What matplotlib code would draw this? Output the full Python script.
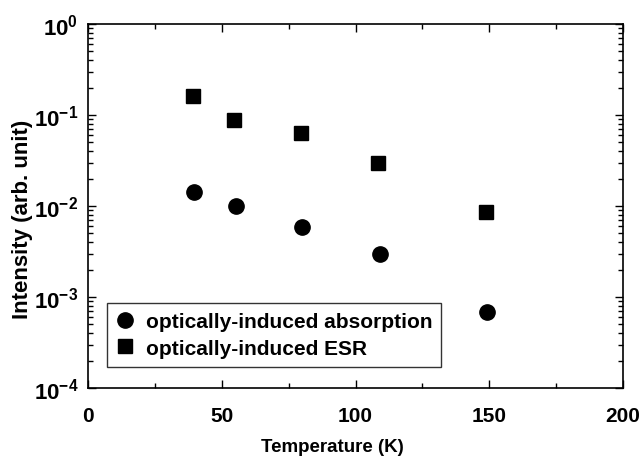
import math
import matplotlib
matplotlib.use("Agg")
import matplotlib.pyplot as plt
from matplotlib.ticker import FixedLocator, LogLocator, FuncFormatter, NullFormatter

plt.rcParams['font.family'] = ['Liberation Sans', 'DejaVu Sans']
plt.rcParams['font.weight'] = 'bold'
plt.rcParams['mathtext.fontset'] = 'custom'
plt.rcParams['mathtext.rm'] = 'Liberation Sans:bold'
plt.rcParams['mathtext.bf'] = 'Liberation Sans:bold'
plt.rcParams['mathtext.default'] = 'bf'

# data
abs_T = [39.7, 55.2, 80.0, 109.2, 149.2]
abs_I = [0.0142, 0.0100, 0.0059, 0.0030, 0.00069]
esr_T = [39.3, 54.6, 79.6, 108.4, 148.8]
esr_I = [0.16, 0.088, 0.063, 0.030, 0.0086]
x_ticks = [0, 50, 100, 150, 200]
x_minor = [25, 75, 125, 175]
y_exps = [0, -1, -2, -3, -4]

fig = plt.figure(figsize=(6.41, 4.60), dpi=100)
ax = fig.add_axes([88/641, 1 - 389/460, (623-88)/641, (389-25)/460])

ax.plot(abs_T, abs_I, 'o', color='black', markersize=11, label='optically-induced absorption', linestyle='none')
ax.plot(esr_T, esr_I, 's', color='black', markersize=10, label='optically-induced ESR', linestyle='none')

ax.set_yscale('log')
ax.set_xlim(0, 200)
ax.set_ylim(1e-4, 1e0)
ax.xaxis.set_major_locator(FixedLocator(x_ticks))
ax.xaxis.set_minor_locator(FixedLocator(x_minor))
ax.yaxis.set_major_locator(FixedLocator([10.0**e for e in y_exps]))
ax.yaxis.set_minor_locator(LogLocator(base=10, subs=range(2, 10)))
ax.yaxis.set_minor_formatter(NullFormatter())

def yfmt(v, pos):
    e = int(round(math.log10(v)))
    return r'$\mathbf{10^{%s}}$' % ('-%d' % -e if e < 0 else '%d' % e)
ax.yaxis.set_major_formatter(FuncFormatter(yfmt))

ax.tick_params(which='both', direction='in', top=True, right=True, width=1.0)
ax.tick_params(which='major', length=6)
ax.tick_params(which='minor', length=3.5)
ax.tick_params(axis='x', pad=13, labelsize=15)
ax.tick_params(axis='y', pad=7, labelsize=16)
for lab in ax.get_xticklabels():
    lab.set_fontweight('bold')

for s in ax.spines.values():
    s.set_linewidth(1.2)

ax.set_xlabel('Temperature (K)', fontsize=13.5, fontweight='bold')
ax.xaxis.set_label_coords((332-88)/535, -(439-389)/364)
ax.set_ylabel('Intensity (arb. unit)', fontsize=16, fontweight='bold')
ax.yaxis.set_label_coords(-(88-33)/535, (389-219)/364)

leg = ax.legend(loc='lower left', bbox_to_anchor=(0.0355, 0.058), fontsize=15,
                frameon=True, fancybox=False, edgecolor='black', handlelength=0.8,
                handletextpad=0.6, borderpad=0.45, labelspacing=0.35, borderaxespad=0)
leg.get_frame().set_linewidth(1.0)
for t in leg.get_texts():
    t.set_fontweight('bold')

fig.savefig('out.png', dpi=100)
